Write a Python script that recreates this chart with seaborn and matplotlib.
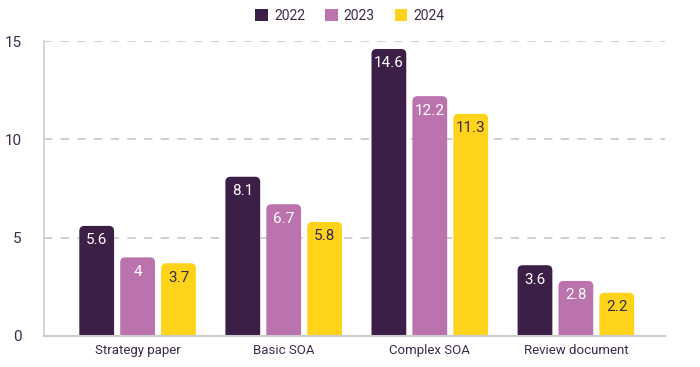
import numpy as np
import pandas as pd
import seaborn as sns
import matplotlib
matplotlib.use("Agg")
from matplotlib import pyplot as plt
from matplotlib.patches import FancyBboxPatch

categories = ["Strategy paper", "Basic SOA", "Complex SOA", "Review document"]
years = ["2022", "2023", "2024"]
values_2022 = [5.6, 8.1, 14.6, 3.6]
values_2023 = [4, 6.7, 12.2, 2.8]
values_2024 = [3.7, 5.8, 11.3, 2.2]
colors = ["#3c1f47", "#bb73ad", "#ffd31a"]
label_colors = ["white", "white", "#3c2a4a"]
text_color = "#3c2a4a"

df = pd.DataFrame({
    "category": categories * 3,
    "year": [y for y in years for _ in categories],
    "value": values_2022 + values_2023 + values_2024,
})

sns.set_style("white")
plt.rcParams["font.family"] = ["Roboto", "DejaVu Sans"]

fig = plt.figure(figsize=(7, 3.67), dpi=100)
ax = fig.add_axes([0.063, 0.0845, 0.887, 0.8035])

sns.barplot(data=df, x="category", y="value", hue="year", palette=colors,
            width=0.84, gap=0.15, ax=ax, legend=False, saturation=1)

ax.set_ylim(0, 15)
ax.set_xlim(-0.64, 3.61)

# swap plain bars for ones with rounded tops
bars = list(ax.patches)
for i, bar in enumerate(bars):
    h_idx = i // len(categories)
    x, w, h = bar.get_x(), bar.get_width(), bar.get_height()
    bar.remove()
    rr = 0.035
    rounded = FancyBboxPatch((x, -0.5), w, h + 0.5,
                             boxstyle=f"round,pad=0,rounding_size={rr}",
                             mutation_aspect=7.4,
                             facecolor=colors[h_idx], edgecolor="none",
                             zorder=3)
    ax.add_patch(rounded)
    lbl = f"{h:g}"
    ax.text(x + w / 2, h - 0.38, lbl, ha="center", va="top",
            fontsize=11, color=label_colors[h_idx], zorder=4)

ax.set_yticks([0, 5, 10, 15])
ax.yaxis.grid(True, linestyle=(0, (5, 5)), color="#c8c8c8", linewidth=1.2)
ax.set_axisbelow(True)
ax.tick_params(axis="y", length=0, pad=16, labelsize=11, labelcolor=text_color)
ax.tick_params(axis="x", length=0, pad=6, labelsize=9.5, labelcolor=text_color)
ax.set_xlabel("")
ax.set_ylabel("")
for s in ["top", "right"]:
    ax.spines[s].set_visible(False)
ax.spines["left"].set_color("#cccccc")
ax.spines["bottom"].set_color("#cccccc")
ax.spines["left"].set_linewidth(1.2)
ax.spines["bottom"].set_linewidth(1.5)
ax.spines["bottom"].set_zorder(5)

handles = [FancyBboxPatch((0, 0), 1, 1, boxstyle="round,pad=0,rounding_size=0.2",
                          facecolor=c, edgecolor="none") for c in colors]
fig.legend(handles, years, loc="upper center", bbox_to_anchor=(0.5, 1.01), ncol=3,
           frameon=False, fontsize=10, labelcolor=text_color,
           handlelength=0.9, handleheight=0.9, handletextpad=0.45, columnspacing=1.45)

fig.savefig("out.png", dpi=100)
